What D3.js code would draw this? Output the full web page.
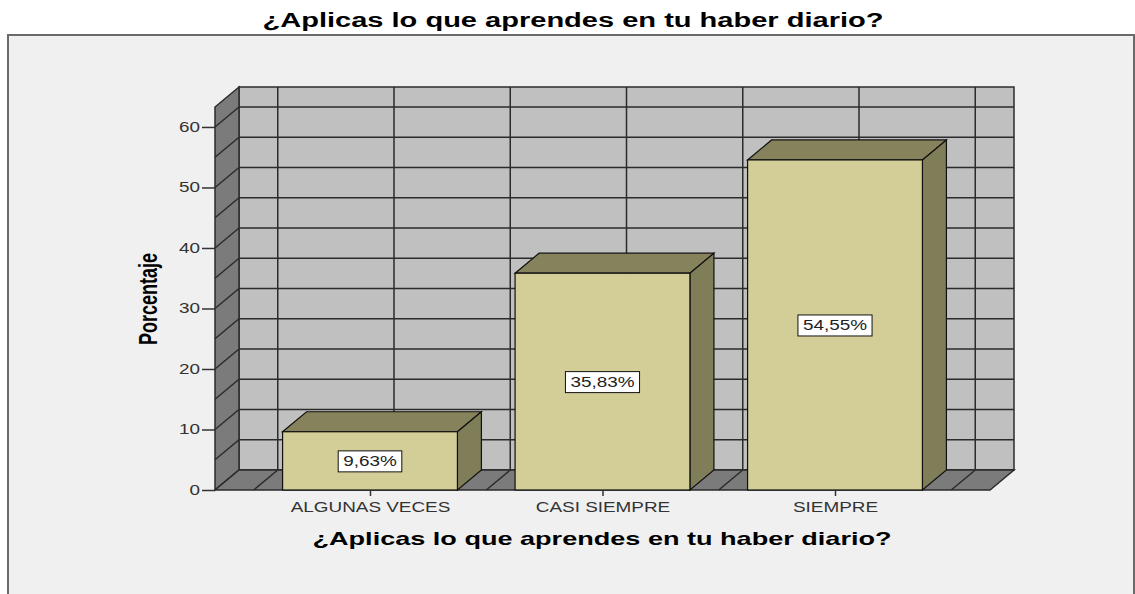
<!DOCTYPE html>
<html>
<head>
<meta charset="utf-8">
<script src="https://cdn.jsdelivr.net/npm/d3@7"></script>
<style>
  body { margin: 0; background: #fff; }
  text { font-family: "Liberation Sans", Arial, sans-serif; }
</style>
</head>
<body>
<svg id="chart" width="1135" height="594"></svg>
<script>
const categories = ['ALGUNAS VECES', 'CASI SIEMPRE', 'SIEMPRE'];
const percents = [9.63, 35.83, 54.55];
const labels = ['9,63%', '35,83%', '54,55%'];
const yTicks = [0, 10, 20, 30, 40, 50, 60];
const gridValues = [0, 5, 10, 15, 20, 25, 30, 35, 40, 45, 50, 55, 60];
const titleText = '¿Aplicas lo que aprendes en tu haber diario?';
const yTitle = 'Porcentaje';

// the original picture is stretched sideways, so text is widened too
const stretch = 1.35;
const depth = { dx: 24, dy: -20 };
const yMax = 63.3;

var svg = d3.select('#chart');

// frame
svg.append('rect')
    .attr('x', 8).attr('y', 35)
    .attr('width', 1126).attr('height', 600)
    .attr('fill', '#f0f0f0')
    .attr('stroke', '#6a6a6a')
    .attr('stroke-width', 2);

var x = d3.scaleLinear()
    .domain([-2 / 3, categories.length - 1 + 2 / 3])
    .range([215, 990]);

var y = d3.scaleLinear()
    .domain([0, yMax])
    .range([490, 107]);

const x0 = x.range()[0], x1 = x.range()[1];
const step = x(1) - x(0);
const halfBar = step * 0.376;
const gridX = d3.range(-0.5, categories.length, 0.5);
const lineCol = '#2b2b2b';

function pts(a) { return a.map(p => p.join(',')).join(' '); }

// back wall
var wall = svg.append('g');
wall.append('rect')
    .attr('x', x0 + depth.dx).attr('y', y(yMax) + depth.dy)
    .attr('width', x1 - x0).attr('height', y(0) - y(yMax))
    .attr('fill', '#c0c0c0');
wall.selectAll('.hg').data(gridValues).enter().append('line')
    .attr('x1', x0 + depth.dx).attr('x2', x1 + depth.dx)
    .attr('y1', d => y(d) + depth.dy).attr('y2', d => y(d) + depth.dy)
    .attr('stroke', lineCol).attr('stroke-width', 1.5);
wall.selectAll('.vg').data(gridX).enter().append('line')
    .attr('x1', d => x(d) + depth.dx).attr('x2', d => x(d) + depth.dx)
    .attr('y1', y(yMax) + depth.dy).attr('y2', y(0) + depth.dy)
    .attr('stroke', lineCol).attr('stroke-width', 1.5);
wall.append('rect')
    .attr('x', x0 + depth.dx).attr('y', y(yMax) + depth.dy)
    .attr('width', x1 - x0).attr('height', y(0) - y(yMax))
    .attr('fill', 'none').attr('stroke', lineCol).attr('stroke-width', 1.5);

// left side wall
var side = svg.append('g');
side.append('polygon')
    .attr('points', pts([[x0, y(0)], [x0 + depth.dx, y(0) + depth.dy], [x0 + depth.dx, y(yMax) + depth.dy], [x0, y(yMax)]]))
    .attr('fill', '#7b7b7b').attr('stroke', lineCol).attr('stroke-width', 1.5);
side.selectAll('line').data(gridValues).enter().append('line')
    .attr('x1', x0).attr('x2', x0 + depth.dx)
    .attr('y1', d => y(d)).attr('y2', d => y(d) + depth.dy)
    .attr('stroke', lineCol).attr('stroke-width', 1.5);

// floor
var floor = svg.append('g');
floor.append('polygon')
    .attr('points', pts([[x0, y(0)], [x1, y(0)], [x1 + depth.dx, y(0) + depth.dy], [x0 + depth.dx, y(0) + depth.dy]]))
    .attr('fill', '#7b7b7b').attr('stroke', lineCol).attr('stroke-width', 1.5);
floor.selectAll('line').data(gridX).enter().append('line')
    .attr('x1', d => x(d)).attr('x2', d => x(d) + depth.dx)
    .attr('y1', y(0)).attr('y2', y(0) + depth.dy)
    .attr('stroke', lineCol).attr('stroke-width', 1.5);

// bars
var bars = svg.selectAll('.bar')
    .data(percents)
    .enter().append('g')
    .attr('class', 'bar');

bars.append('polygon')
    .attr('points', (d, i) => {
        var l = x(i) - halfBar, r = x(i) + halfBar, t = y(d);
        return pts([[l, t], [r, t], [r + depth.dx, t + depth.dy], [l + depth.dx, t + depth.dy]]);
    })
    .attr('fill', '#86835c').attr('stroke', '#111').attr('stroke-width', 1.2);
bars.append('polygon')
    .attr('points', (d, i) => {
        var r = x(i) + halfBar, t = y(d), b = y(0);
        return pts([[r, t], [r + depth.dx, t + depth.dy], [r + depth.dx, b + depth.dy], [r, b]]);
    })
    .attr('fill', '#807d59').attr('stroke', '#111').attr('stroke-width', 1.2);
bars.append('rect')
    .attr('x', (d, i) => x(i) - halfBar)
    .attr('y', d => y(d))
    .attr('width', halfBar * 2)
    .attr('height', d => y(0) - y(d))
    .attr('fill', '#d3ce98').attr('stroke', '#111').attr('stroke-width', 1.2);

// value labels
bars.each(function(d, i) {
    var g = d3.select(this);
    var cx = x(i), cy = (y(d) + y(0)) / 2;
    var box = g.append('rect');
    var t = g.append('text')
        .attr('x', cx).attr('y', cy + 5)
        .attr('text-anchor', 'middle')
        .attr('font-size', 14)
        .attr('fill', '#222')
        .text(labels[i]);
    var w = t.node().getComputedTextLength() * stretch;
    t.attr('textLength', w).attr('lengthAdjust', 'spacingAndGlyphs');
    box.attr('x', cx - w / 2 - 5).attr('y', cy - 10)
        .attr('width', w + 10).attr('height', 21)
        .attr('fill', '#fff').attr('stroke', '#111').attr('stroke-width', 1);
});

function widen(sel) {
    sel.each(function() {
        var w = this.getComputedTextLength() * stretch;
        d3.select(this).attr('textLength', w).attr('lengthAdjust', 'spacingAndGlyphs');
    });
}

// y axis
var yAxis = svg.append('g')
    .attr('transform', 'translate(' + x0 + ',0)')
    .call(d3.axisLeft(y).tickValues(yTicks).tickSize(13).tickPadding(2));
yAxis.select('.domain').remove();
yAxis.selectAll('line').attr('stroke', '#333').attr('stroke-width', 1.5);
yAxis.selectAll('text')
    .attr('font-size', 14).attr('fill', '#333')
    .style('font-family', '"Liberation Sans", Arial, sans-serif')
    .call(widen);

// x axis
var xAxis = svg.append('g')
    .attr('transform', 'translate(0,' + y(0) + ')')
    .call(d3.axisBottom(x).tickValues(d3.range(categories.length))
        .tickFormat(i => categories[i]).tickSize(6).tickPadding(6));
xAxis.select('.domain').remove();
xAxis.selectAll('line').attr('stroke', '#333').attr('stroke-width', 1.5);
xAxis.selectAll('text')
    .attr('font-size', 14).attr('fill', '#333')
    .style('font-family', '"Liberation Sans", Arial, sans-serif')
    .call(widen);

// titles
svg.append('text')
    .attr('x', 573).attr('y', 27)
    .attr('text-anchor', 'middle')
    .attr('font-size', 20).attr('font-weight', 'bold')
    .attr('textLength', 621).attr('lengthAdjust', 'spacingAndGlyphs')
    .text(titleText);

svg.append('text')
    .attr('x', 602).attr('y', 545)
    .attr('text-anchor', 'middle')
    .attr('font-size', 19).attr('font-weight', 'bold')
    .attr('textLength', 579).attr('lengthAdjust', 'spacingAndGlyphs')
    .text(titleText);

svg.append('text')
    .attr('transform', 'translate(157,299) scale(' + stretch + ',1) rotate(-90)')
    .attr('text-anchor', 'middle')
    .attr('font-size', 19).attr('font-weight', 'bold')
    .attr('textLength', 92).attr('lengthAdjust', 'spacingAndGlyphs')
    .text(yTitle);
</script>
</body>
</html>
